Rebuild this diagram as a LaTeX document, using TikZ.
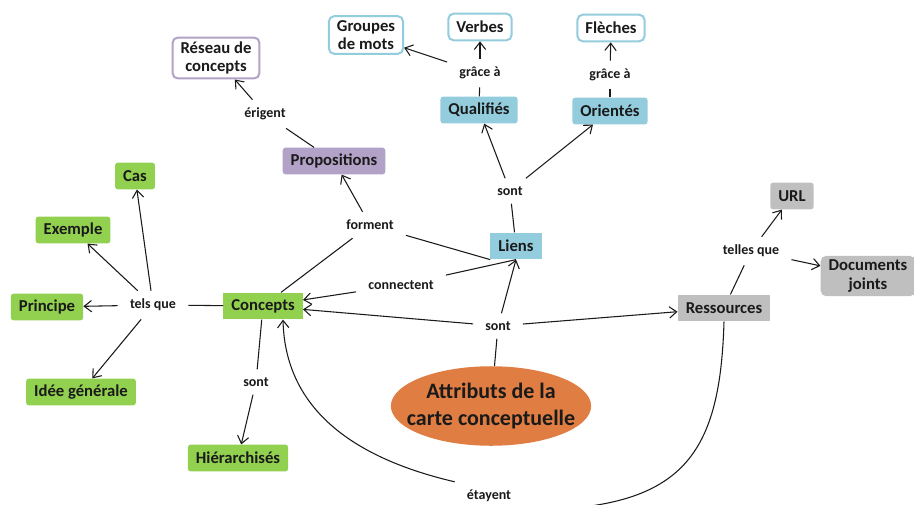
\documentclass[tikz,border=0pt]{standalone}
\usepackage{fontspec}
\setmainfont{Carlito}
\usepackage{xcolor}
\usetikzlibrary{arrows.meta,shapes.geometric}
\definecolor{cgreen}{HTML}{92D050}
\definecolor{cblue}{HTML}{93CDDD}
\definecolor{cpurple}{HTML}{B3A2C7}
\definecolor{cgray}{HTML}{BFBFBF}
\definecolor{corange}{HTML}{E07D42}
\definecolor{ctxt}{HTML}{1A1A1A}

\begin{document}
\begin{tikzpicture}[x=0.75pt,y=-0.75pt,
  every node/.style={font=\bfseries\fontsize{12.5}{14}\selectfont,text=ctxt},
  box/.style={inner xsep=6pt,inner ysep=3pt,minimum height=20pt,align=center},
  grn/.style={box,fill=cgreen,rounded corners=2pt},
  blu/.style={box,fill=cblue},
  bluo/.style={box,draw=cblue,line width=1.5pt,fill=white,rounded corners=4pt},
  pur/.style={box,fill=cpurple,rounded corners=2pt},
  puro/.style={box,draw=cpurple,line width=1.5pt,fill=white,rounded corners=4pt},
  gry/.style={box,fill=cgray},
  ell/.style={ellipse,fill=corange,inner xsep=-10pt,inner ysep=4pt,
    align=center,font=\bfseries\fontsize{16.5}{20}\selectfont},
  lbl/.style={fill=white,inner xsep=9pt,inner ysep=6pt,font=\bfseries\fontsize{10.5}{12}\selectfont},
  link/.style={draw=ctxt,line width=0.8pt},
  >={Straight Barb[length=5.5pt,width=8.5pt]}]
 \useasboundingbox (0,0) rectangle (914,504);
 % concepts
 \node[puro] (Reseau) at (216,58) {Réseau de\\concepts};
 \node[bluo] (Groupes) at (366,35) {Groupes\\de mots};
 \node[bluo] (Verbes) at (480,27) {Verbes};
 \node[bluo] (Fleches) at (611,28) {Flèches};
 \node[blu,rounded corners=2pt] (Qual) at (479,110) {Qualifiés};
 \node[blu,rounded corners=2pt] (Orient) at (610,111) {Orientés};
 \node[pur] (Prop) at (334,161) {Propositions};
 \node[grn] (Cas) at (135,176) {Cas};
 \node[grn] (Exemple) at (73,230) {Exemple};
 \node[blu] (Liens) at (516,246) {Liens};
 \node[gry,rounded corners=2pt] (URL) at (792,196) {URL};
 \node[gry,rounded corners=4pt] (Docs) at (868,276) {Documents\\joints};
 \node[grn] (Principe) at (47,307) {Principe};
 \node[grn,rounded corners=0pt] (Conc) at (263,306) {Concepts};
 \node[gry] (Ress) at (724,308) {Ressources};
 \node[grn] (Idee) at (81,392) {Idée générale};
 \node[grn] (Hier) at (238,458) {Hiérarchisés};
 \node[ell] (Attr) at (491,406) {Attributs de la\\carte conceptuelle};
 % link phrases
 \node[lbl] (erig) at (265,114) {érigent};
 \node[lbl] (graceA) at (480,73) {grâce à};
 \node[lbl] (graceB) at (610,75) {grâce à};
 \node[lbl] (sontA) at (510,191) {sont};
 \node[lbl] (forment) at (370,225) {forment};
 \node[lbl] (tellesque) at (751,251) {telles que};
 \node[lbl] (connectent) at (401,285) {connectent};
 \node[lbl] (telsque) at (153,305) {tels que};
 \node[lbl] (sontB) at (498,326) {sont};
 \node[lbl] (sontC) at (256,382) {sont};
 \node[lbl] (etayent) at (489,496) {étayent};
 % plain lines
 \foreach \a/\b in {Prop/erig,Liens/sontA,Qual/graceA,Orient/graceB,Conc/forment,
   Liens.south west/forment,connectent/Liens.south,Conc/telsque,Conc/sontC,
   Ress/tellesque,Attr/sontB}
   \draw[link] (\a) -- (\b);
 % arrows
 \foreach \a/\b in {erig/Reseau,graceA/Groupes,graceA/Verbes,graceB/Fleches,
   sontA/Qual,sontA/Orient,forment/Prop,connectent/Conc,sontB/Conc,
   sontB/Liens.south,sontB/Ress,telsque/Cas,telsque/Exemple,telsque/Principe,
   telsque/Idee,sontC/Hier,tellesque/URL,tellesque/Docs}
   \draw[link,->] (\a) -- (\b);
 % curved links
 \draw[link] (Ress.south) .. controls (720,460) and (680,510) .. (etayent.south east);
 \draw[link,->] (etayent.north west) .. controls (340,455) and (285,400) .. ([xshift=15pt]Conc.south);
\end{tikzpicture}
\end{document}
